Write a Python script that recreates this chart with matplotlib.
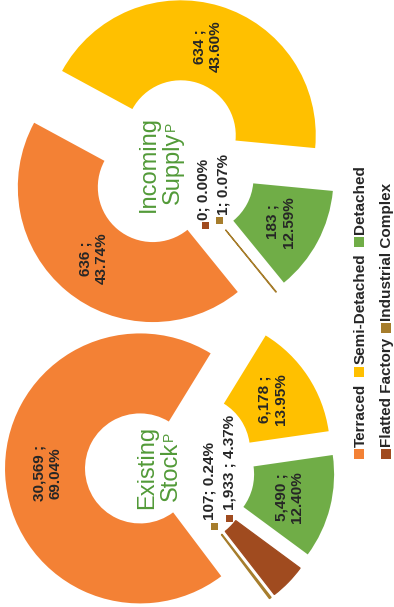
import numpy as np
import matplotlib.pyplot as plt
from matplotlib.patches import Rectangle

plt.rcParams['font.family'] = ['Liberation Sans', 'DejaVu Sans']

categories = ['Terraced', 'Semi-Detached', 'Detached', 'Flatted Factory', 'Industrial Complex']
colors = ['#F38135', '#FFC000', '#70AD47', '#A04B1F', '#A67D2C']

existing_stock = [30569, 6178, 5490, 1933, 107]
incoming_supply = [636, 634, 183, 0, 1]

W, H = 394, 607
R, RING, EXPLODE = 135, 80, 30
TXT = '#262626'
TITLE_GREEN = '#529A38'

fig = plt.figure(figsize=(W / 100, H / 100), dpi=100)
ax = fig.add_axes([0, 0, 1, 1])


def donut(values, center, start, title, small_pos, seps):
    total = sum(values)
    wedges, _ = ax.pie(values, colors=colors, startangle=start, counterclock=False,
                       radius=R, center=center, explode=[EXPLODE] * len(values),
                       wedgeprops=dict(width=RING, linewidth=0), frame=True)
    for i, (w, v) in enumerate(zip(wedges, values)):
        pct = 100 * v / total
        label = f"{v:,}{seps[i]}{pct:.2f}%"
        if pct >= 5:
            mid = np.deg2rad((w.theta1 + w.theta2) / 2)
            r = R - RING / 2 - 2
            x = w.center[0] + r * np.cos(mid)
            y = w.center[1] + r * np.sin(mid)
            ax.text(x, y, label, rotation=90, ha='center', va='center',
                    fontsize=11, fontweight='bold', color=TXT, multialignment='center')
        else:
            if v > 0:
                w.set_edgecolor(colors[i])
                w.set_linewidth(0.9)
            mx, my, tx, ty = small_pos[i]
            ax.add_patch(Rectangle((center[0] + mx - 3.5, center[1] + my - 3.5), 7, 7,
                                   color=colors[i], lw=0))
            ax.text(center[0] + tx, center[1] + ty, label, rotation=90, ha='center',
                    va='bottom', fontsize=11, fontweight='bold', color=TXT)

    # two-line centre title with a small raised "P"
    line1, line2 = title
    ax.text(center[0] - 23, center[1], line1, rotation=90, ha='center', va='center',
            fontsize=17, color=TITLE_GREEN)
    t2 = ax.text(center[0] + 1, center[1] - 4, line2, rotation=90, ha='center', va='center',
                 fontsize=17, color=TITLE_GREEN)
    ax.annotate('P', xy=(0, 1), xycoords=t2, xytext=(1.5, 0.5), textcoords='offset points',
                rotation=90, ha='left', va='bottom', fontsize=10, color=TITLE_GREEN)


# incoming supply (upper ring)
donut(incoming_supply, (172, 443), -51, ('Incoming', 'Supply'),
      {3: (34, -61, 31.5, -56), 4: (48, -56, 52, -51)},
      [' ;\n', ' ;\n', ' ;\n', '; ', '; '])

# existing stock (lower ring)
donut(existing_stock, (170, 140), -53, ('Existing', 'Stock'),
      {3: (60, -51, 60, -43), 4: (45, -59, 40, -53)},
      [' ;\n', ' ;\n', ' ;\n', ' ; ', '; '])

# legend, two columns running bottom to top
legend_pos = [(359.5, 153), (359.5, 235.5), (359.5, 365.5), (386, 153), (386, 279)]
for name, c, (lx, ly) in zip(categories, colors, legend_pos):
    ax.add_patch(Rectangle((lx - 5, ly - 5), 10, 10, color=c, lw=0))
    ax.text(lx + 1, ly + 7, name, rotation=90, ha='center', va='bottom',
            fontsize=11, fontweight='bold', color=TXT)

ax.set_xlim(0, W)
ax.set_ylim(0, H)
ax.set_aspect('equal')
ax.axis('off')

fig.savefig('out.png', dpi=100)
